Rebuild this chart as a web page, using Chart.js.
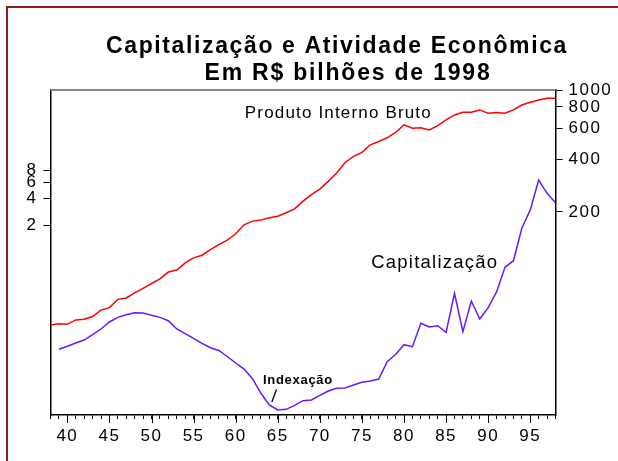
<!DOCTYPE html>
<html>
<head>
  <title>Capitalização e Atividade Econômica</title>
  <script src="https://cdn.jsdelivr.net/npm/chart.js"></script>
  <style>
    body {
        margin: 0;
        background-color: #ffffff;
        overflow: hidden;
    }
    #caixa {
        position: relative;
        width: 618px;
        height: 461px;
    }
  </style>
</head>
<body>

<div id="caixa">
    <canvas id="myChart" width="618" height="461"></canvas>
</div>

<script>
    // anos (eixo x) e as duas series
    const anos = [1938, 1939, 1940, 1941, 1942, 1943, 1944, 1945, 1946, 1947,
                  1948, 1949, 1950, 1951, 1952, 1953, 1954, 1955, 1956, 1957,
                  1958, 1959, 1960, 1961, 1962, 1963, 1964, 1965, 1966, 1967,
                  1968, 1969, 1970, 1971, 1972, 1973, 1974, 1975, 1976, 1977,
                  1978, 1979, 1980, 1981, 1982, 1983, 1984, 1985, 1986, 1987,
                  1988, 1989, 1990, 1991, 1992, 1993, 1994, 1995, 1996, 1997,
                  1998];

    // Produto Interno Bruto (eixo da direita)
    const pib = [45.0, 45.8, 45.4, 48.1, 48.5, 50.3, 54.8, 56.6, 63.1, 64.3,
                 68.8, 73.0, 77.8, 82.7, 90.5, 92.9, 102.2, 109.1, 113.0, 121.8,
                 130.1, 137.9, 149.9, 168.8, 177.2, 179.6, 185.1, 189.2, 197.8, 208.5,
                 230.8, 251.2, 270.6, 299.6, 334.4, 384.5, 416.4, 438.8, 485.3, 507.2,
                 532.1, 570.8, 631.0, 604.0, 606.7, 590.8, 625.5, 673.9, 719.7, 745.5,
                 745.5, 768.8, 735.8, 742.5, 735.8, 768.8, 820.6, 850.1, 876.8, 896.1,
                 896.1];

    // Capitalizacao (eixo da esquerda), sem valor em 1938
    const capitalizacao = [null, 0.0889, 0.0959, 0.1042, 0.1124, 0.1285, 0.1483, 0.177, 0.199, 0.2127,
                 0.2234, 0.2218, 0.2094, 0.199, 0.1828, 0.1483, 0.1318, 0.1173, 0.1034, 0.0925,
                 0.0863, 0.0742, 0.0630, 0.0541, 0.0424, 0.0294, 0.0219, 0.0193, 0.0196, 0.0217,
                 0.0244, 0.0248, 0.0279, 0.0311, 0.0333, 0.0336, 0.0362, 0.0387, 0.0400, 0.0421,
                 0.0651, 0.0780, 0.0999, 0.0949, 0.171, 0.156, 0.161, 0.1365, 0.365, 0.1387,
                 0.300, 0.1907, 0.2536, 0.377, 0.702, 0.829, 1.875, 2.97, 6.33, 4.53,
                 3.57];

    const ticksEsquerda = [2, 4, 6, 8];
    const ticksDireita = [200, 400, 600, 800, 1000];

    const fonte = '"Liberation Sans", Arial, Helvetica, sans-serif';

    // escreve um texto esticado ate uma largura dada (o original tem letras espacadas)
    function textoLargo(ctx, txt, cx, y, largura, font) {
        ctx.save();
        ctx.font = font;
        ctx.letterSpacing = '0px';
        const w = ctx.measureText(txt).width;
        const esp = (largura - w) / txt.length;
        ctx.letterSpacing = esp + 'px';
        ctx.textAlign = 'left';
        ctx.textBaseline = 'alphabetic';
        ctx.fillStyle = '#000';
        ctx.fillText(txt, cx - largura / 2, y);
        ctx.restore();
    }

    const enfeites = {
        id: 'enfeites',
        beforeDraw(chart) {
            const c = chart.ctx;
            // moldura vermelho escuro (so aparecem esquerda e topo)
            c.save();
            c.strokeStyle = '#8c1c1c';
            c.lineWidth = 2;
            c.beginPath();
            c.moveTo(7, 461);
            c.lineTo(7, 7);
            c.lineTo(618, 7);
            c.stroke();
            c.restore();
            c.letterSpacing = '1.5px';
        },
        afterDraw(chart) {
            const c = chart.ctx;
            const a = chart.chartArea;
            const x = chart.scales.x;
            const y1 = chart.scales.y1;
            const y2 = chart.scales.y2;

            // linha cinza no topo da area do grafico
            c.save();
            c.strokeStyle = '#8a8a8a';
            c.lineWidth = 2;
            c.beginPath();
            c.moveTo(a.left, a.top);
            c.lineTo(a.right, a.top);
            c.stroke();

            // marcas maiores a cada 5 anos
            c.strokeStyle = '#000';
            c.lineWidth = 1;
            anos.forEach(function (ano) {
                if (ano % 5 === 0) {
                    const px = Math.round(x.getPixelForValue(ano)) + 0.5;
                    c.beginPath();
                    c.moveTo(px, a.bottom);
                    c.lineTo(px, a.bottom + 8);
                    c.stroke();
                }
            });
            c.restore();

            // titulo
            textoLargo(c, 'Capitalização e Atividade Econômica', 337, 53, 462, 'bold 23px ' + fonte);
            textoLargo(c, 'Em R$ bilhões de 1998', 348, 80, 287, 'bold 23px ' + fonte);

            // rotulos das series
            textoLargo(c, 'Produto Interno Bruto', x.getPixelForValue(1972.2), y2.getPixelForValue(691), 187, '17px ' + fonte);
            textoLargo(c, 'Capitalização', x.getPixelForValue(1983.65), y1.getPixelForValue(0.689), 127, '18.5px ' + fonte);
            textoLargo(c, 'Indexação', x.getPixelForValue(1967.4), y1.getPixelForValue(0.0371), 70, 'bold 13px ' + fonte);

            // tracinho do "Indexação"
            c.save();
            c.strokeStyle = '#000';
            c.lineWidth = 1.3;
            c.beginPath();
            c.moveTo(x.getPixelForValue(1964.85), y1.getPixelForValue(0.0323));
            c.lineTo(x.getPixelForValue(1964.3), y1.getPixelForValue(0.0236));
            c.stroke();
            c.restore();
        }
    };

    const ctx = document.getElementById('myChart').getContext('2d');
    const myChart = new Chart(ctx, {
        type: 'line',
        data: {
            datasets: [{
                label: 'Produto Interno Bruto',
                data: anos.map((a, i) => ({ x: a, y: pib[i] })),
                yAxisID: 'y2',
                borderColor: '#ff0000',
                borderWidth: 1.5,
                pointRadius: 0,
                tension: 0
            }, {
                label: 'Capitalização',
                data: anos.map((a, i) => ({ x: a, y: capitalizacao[i] })),
                yAxisID: 'y1',
                borderColor: '#6619ff',
                borderWidth: 1.5,
                pointRadius: 0,
                tension: 0
            }]
        },
        options: {
            responsive: false,
            animation: false,
            devicePixelRatio: 1,
            layout: { padding: { top: 90, left: 0, right: 0, bottom: 0 } },
            plugins: {
                legend: { display: false },
                tooltip: { enabled: false }
            },
            scales: {
                x: {
                    type: 'linear',
                    min: 1938,
                    max: 1998,
                    afterFit: s => { s.height = 46; },
                    grid: { drawOnChartArea: false, drawTicks: true, tickLength: 4, tickColor: '#000', tickWidth: 1 },
                    border: { color: '#000', width: 1.5 },
                    ticks: {
                        stepSize: 1,
                        autoSkip: false,
                        maxRotation: 0,
                        padding: 7,
                        color: '#000',
                        font: { family: fonte, size: 17 },
                        callback: v => (v % 5 === 0 ? String(v).slice(2) : '')
                    }
                },
                y1: {
                    type: 'logarithmic',
                    position: 'left',
                    min: 0.017,
                    max: 61.1,
                    afterFit: s => { s.width = 50.5; },
                    afterBuildTicks: s => { s.ticks = ticksEsquerda.map(v => ({ value: v })); },
                    grid: { drawOnChartArea: false, tickLength: 7, tickColor: '#000' },
                    border: { color: '#000', width: 1.5 },
                    ticks: {
                        autoSkip: false,
                        padding: 6,
                        color: '#000',
                        font: { family: fonte, size: 17 },
                        callback: v => String(v)
                    }
                },
                y2: {
                    type: 'logarithmic',
                    position: 'right',
                    min: 13.72,
                    max: 1000,
                    afterFit: s => { s.width = 62.5; },
                    afterBuildTicks: s => { s.ticks = ticksDireita.map(v => ({ value: v })); },
                    grid: { drawOnChartArea: false, tickLength: 7, tickColor: '#000' },
                    border: { color: '#000', width: 1.5 },
                    ticks: {
                        autoSkip: false,
                        padding: 6,
                        color: '#000',
                        font: { family: fonte, size: 17 },
                        callback: v => String(v)
                    }
                }
            }
        },
        plugins: [enfeites]
    });
</script>

</body>
</html>
